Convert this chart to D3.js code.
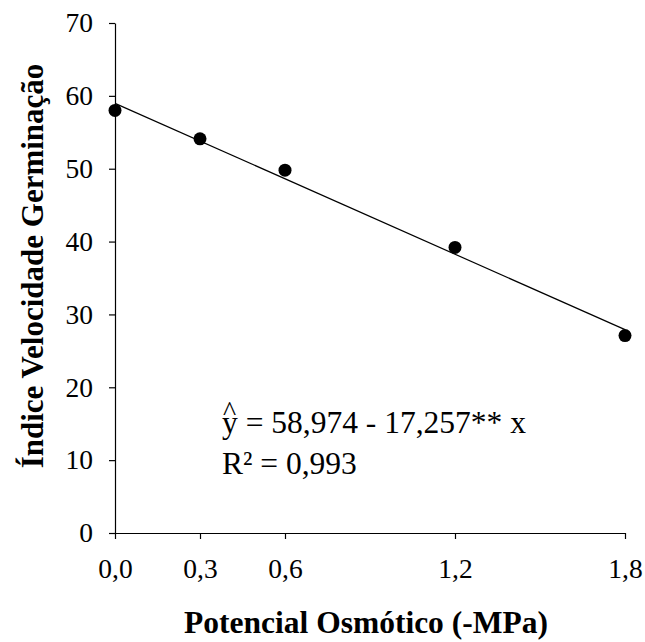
<!DOCTYPE html>
<html lang="pt">
<head>
<meta charset="UTF-8">
<title>Índice Velocidade Germinação</title>
<script src="https://d3js.org/d3.v7.min.js"></script>
<style>
    body { margin: 0; background: #fff; }
    svg text { font-family: "Liberation Serif", "Times New Roman", serif; fill: #000; }
</style>
</head>
<body>
<svg id="chart" width="645" height="642"></svg>
<script>
// data
var potencial = [0, 0.3, 0.6, 1.2, 1.8];
var ivg = [58.0, 54.1, 49.8, 39.2, 27.1];
var xTicks = [0, 0.3, 0.6, 1.2, 1.8];
var yTicks = [0, 10, 20, 30, 40, 50, 60, 70];
var intercept = 58.974, slope = -17.257;

var svg = d3.select("#chart");
var margin = {left: 115, right: 20, top: 23, bottom: 109};
var width = 645 - margin.left - margin.right,
    height = 642 - margin.top - margin.bottom;

var x = d3.scaleLinear().domain([0, 1.8]).range([0, 510]);
var y = d3.scaleLinear().domain([0, 70]).range([height, 0]);

var g = svg.append("g").attr("transform", "translate(" + margin.left + "," + margin.top + ")");

var fmt = function(d) { return d3.format(".1f")(d).replace(".", ","); };

// x axis
var xAxis = g.append("g").attr("transform", "translate(0," + height + ")")
    .call(d3.axisBottom(x).tickValues(xTicks).tickFormat(fmt).tickSize(6).tickSizeOuter(0).tickPadding(19));
// y axis
var yAxis = g.append("g")
    .call(d3.axisLeft(y).tickValues(yTicks).tickSize(6).tickSizeOuter(0).tickPadding(16));

[xAxis, yAxis].forEach(function(a) {
    a.selectAll("path, line").attr("stroke", "#000").attr("stroke-width", 1.2);
    a.selectAll("text").style("font-family", "Liberation Serif, serif").style("font-size", "27.5px").attr("fill", "#000");
});

// regression line
var line = d3.line().x(function(d) { return x(d); }).y(function(d) { return y(intercept + slope * d); });
g.append("path").datum([0, 1.8]).attr("d", line).attr("fill", "none").attr("stroke", "#000").attr("stroke-width", 1.2);

// points
g.selectAll("circle").data(potencial).enter().append("circle")
    .attr("cx", function(d) { return x(d); })
    .attr("cy", function(d, i) { return y(ivg[i]); })
    .attr("r", 6.5).attr("fill", "#000");

// equation (hat drawn as its own text above the y)
var eq = svg.append("g").attr("transform", "translate(222,433)");
eq.append("text").attr("x", 0).attr("y", 0).style("font-size", "31.5px").text("y = 58,974 - 17,257** x");
eq.append("text").attr("x", 1).attr("y", -13).style("font-size", "28px").text("^");
eq.append("text").attr("x", 0).attr("y", 41).style("font-size", "31.5px").text("R² = 0,993");

// axis titles
svg.append("text")
    .attr("x", margin.left + 510 / 2 - 4).attr("y", 633)
    .attr("text-anchor", "middle").style("font-size", "31.5px").style("font-weight", "bold")
    .text("Potencial Osmótico (-MPa)");
svg.append("text")
    .attr("transform", "translate(43,266) rotate(-90)")
    .attr("text-anchor", "middle").style("font-size", "31px").style("font-weight", "bold")
    .text("Índice Velocidade Germinação");
</script>
</body>
</html>
